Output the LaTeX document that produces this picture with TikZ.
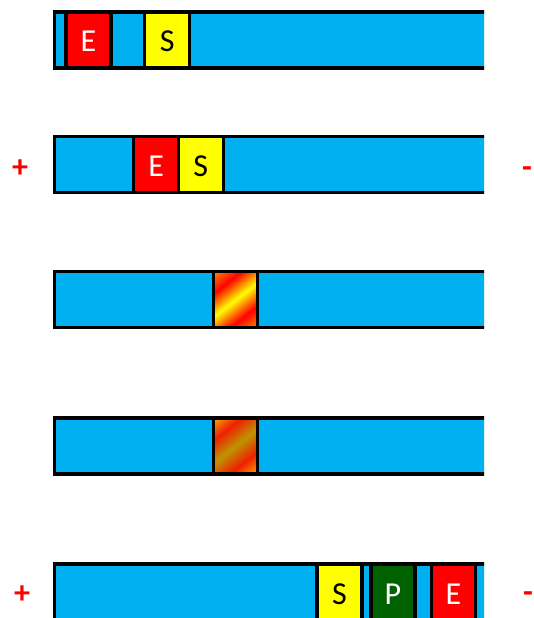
\documentclass[tikz,border=0pt]{standalone}
\usepackage{fontspec}
\setmainfont{Carlito}
\usepackage{xcolor}
\definecolor{barblue}{RGB}{0,176,240}
\definecolor{cellred}{RGB}{255,0,0}
\definecolor{cellyellow}{RGB}{255,255,0}
\definecolor{cellgreen}{RGB}{0,97,0}
\definecolor{hotorange}{RGB}{255,140,0}
\definecolor{dimorange}{RGB}{250,170,0}
\definecolor{dimgold}{RGB}{190,148,0}
\definecolor{dimred}{RGB}{238,32,0}
\usetikzlibrary{calc}
\pgfdeclarehorizontalshading{hotband}{100bp}{color(0bp)=(hotorange); color(15bp)=(hotorange); color(32bp)=(cellred); color(50bp)=(cellyellow); color(68bp)=(cellred); color(85bp)=(hotorange); color(100bp)=(hotorange)}
\pgfdeclarehorizontalshading{dimband}{100bp}{color(0bp)=(dimorange); color(15bp)=(dimorange); color(32bp)=(dimred); color(50bp)=(dimgold); color(68bp)=(dimred); color(85bp)=(dimorange); color(100bp)=(dimorange)}
\tikzset{
  bar/.style={draw=black,fill=barblue,line width=3.3pt},
  cell/.style={draw=black,line width=3.3pt,minimum width=45pt,minimum height=56pt,inner sep=0pt,
    text height=24pt,text depth=0pt,font=\fontsize{32}{32}\selectfont},
  pole/.style={text=cellred,anchor=base,inner sep=0pt,font=\fontsize{32}{32}\selectfont\bfseries}
}

\begin{document}
\begin{tikzpicture}[x=1pt,y=-1pt]
\useasboundingbox (0,0) rectangle (534,618);
\begin{scope}
\clip (0,0) rectangle (484,618);
\draw[bar] (54.3,12) rectangle (520,68);
\node[cell,fill=cellred,text=white] (e1) at (88.4,40) {E};
\node[cell,fill=cellyellow] (s1) at (167.2,40) {S};
\draw[bar] (54.3,136.2) rectangle (520,192.2);
\node[cell,fill=cellred,text=white] (e2) at (156.3,164.2) {E};
\node[cell,fill=cellyellow] (s2) at (200.8,164.2) {S};
\draw[bar] (54.3,271.7) rectangle (520,327.7);
\node[cell,minimum width=44.4pt,shading=hotband,shading angle=-52] (es3) at (235.5,299.7) {};
\draw[bar] (54.3,418) rectangle (520,474);
\node[cell,minimum width=44.4pt,shading=dimband,shading angle=-52] (es4) at (235.5,446) {};
\draw[bar] (54.3,564) rectangle (520,620);
\node[cell,fill=cellyellow] (s5) at (339.5,592) {S};
\node[cell,minimum width=44pt,fill=cellgreen,text=white] (p5) at (393,592) {P};
\node[cell,minimum width=44pt,fill=cellred,text=white] (e5) at (453.5,592) {E};
\end{scope}
\node[pole] (plus2) at (20,177) {+}; \node[pole] (minus2) at (527,177) {-};
\node[pole] (plus5) at (22,603.5) {+}; \node[pole] (minus5) at (528,602) {-};
\end{tikzpicture}
\end{document}
